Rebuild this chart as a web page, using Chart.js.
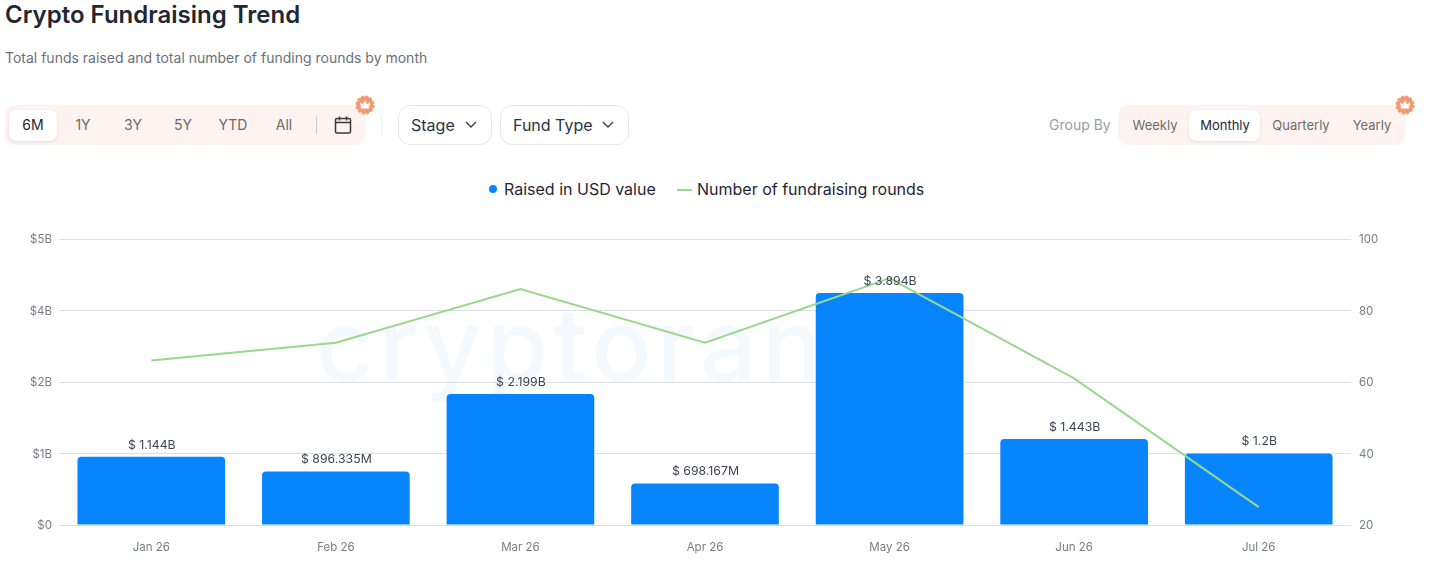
<!DOCTYPE html>
<html>
<head>
<meta charset="utf-8">
<title>Crypto Fundraising Trend</title>
<script src="https://cdn.jsdelivr.net/npm/chart.js@4"></script>
<style>
    html, body { margin: 0; padding: 0; background: #fff; overflow: hidden; }
    body { width: 1441px; height: 565px; position: relative; font-family: Inter, "Noto Sans", sans-serif; color: #1f2733; }
    .abs { position: absolute; white-space: nowrap; }
    .ctr { position: absolute; transform: translateX(-50%); white-space: nowrap; }
    #title { left: 5px; top: 0; font-size: 24px; line-height: 30px; font-weight: 600; }
    #subtitle { left: 5px; top: 49px; font-size: 14px; line-height: 18px; color: #6b7078; }
    .group { position: absolute; top: 105px; height: 40px; background: #fef3f0; border-radius: 10px; }
    .pill { position: absolute; top: 110px; height: 31px; background: #fff; border-radius: 7px; box-shadow: 0 1px 3px rgba(0,0,0,.1); }
    .tab { top: 116px; font-size: 14px; line-height: 18px; color: #6f6a68; }
    .tab.on { color: #1f2733; }
    .gtab { top: 116px; font-size: 13px; line-height: 18px; color: #6f6a68; }
    .gtab.on { color: #1f2733; }
    .drop { position: absolute; top: 105px; height: 38px; border: 1px solid #e6e8eb; border-radius: 12px; background: #fff; }
    .drop span { position: absolute; top: 9px; font-size: 16px; line-height: 20px; color: #2c3440; }
    .drop svg { position: absolute; top: 13px; }
    #wm { left: 316px; top: 285px; font-size: 100px; font-weight: 500; line-height: 120px; color: #f4f9fe; letter-spacing: 5px; }
    #chartBox { position: absolute; left: 0; top: 170px; width: 1441px; height: 395px; }
    .leg { position: absolute; top: 180px; font-size: 16px; line-height: 18px; font-weight: 400; color: #1f2733; white-space: nowrap; }
</style>
</head>
<body>
<div id="title" class="abs">Crypto Fundraising Trend</div>
<div id="subtitle" class="abs">Total funds raised and total number of funding rounds by month</div>

<div class="group" style="left:5px;width:360px"></div>
<div class="pill" style="left:9px;width:48px"></div>
<div class="ctr tab on" style="left:33px">6M</div>
<div class="ctr tab" style="left:83px">1Y</div>
<div class="ctr tab" style="left:133px">3Y</div>
<div class="ctr tab" style="left:183px">5Y</div>
<div class="ctr tab" style="left:233px">YTD</div>
<div class="ctr tab" style="left:284px">All</div>
<div class="abs" style="left:316px;top:116px;width:1px;height:18px;background:#cfc9c6"></div>
<svg class="abs" style="left:334px;top:116px" width="18" height="18" viewBox="0 0 18 18" fill="none" stroke="#3a3a3a" stroke-width="1.5">
    <rect x="1.500" y="2.500" width="15" height="14.500" rx="1.500"/><path d="M1.500 6.500h15M5.500 0.500v4M12.500 0.500v4"/>
</svg>
<svg class="abs crown" style="left:355px;top:95px" width="20" height="20" viewBox="0 0 20 20">
    <circle cx="10" cy="10" r="8.500" fill="#f19a72" stroke="#f19a72" stroke-width="2" stroke-dasharray="3 1.450"/><path d="M5 7l2.700 2.200L10 5.500l2.300 3.700L15 7l-1 6.500H6z" fill="#fff"/>
</svg>

<div class="abs" style="left:381px;top:115px;width:1px;height:20px;background:#eceef0"></div>
<div class="drop" style="left:398px;width:92px">
    <span style="left:12px">Stage</span>
    <svg style="left:65px" width="14" height="12" viewBox="0 0 14 12" fill="none" stroke="#3a3f47" stroke-width="1.4"><path d="M2 3l5 5 5-5"/></svg>
</div>
<div class="drop" style="left:500px;width:127px">
    <span style="left:12px">Fund Type</span>
    <svg style="left:100px" width="14" height="12" viewBox="0 0 14 12" fill="none" stroke="#3a3f47" stroke-width="1.4"><path d="M2 3l5 5 5-5"/></svg>
</div>

<div class="abs" style="left:1049px;top:116px;font-size:14px;line-height:18px;color:#9a9da1">Group By</div>
<div class="group" style="left:1118px;width:287px"></div>
<div class="pill" style="left:1189px;width:71px"></div>
<div class="ctr gtab" style="left:1155px">Weekly</div>
<div class="ctr gtab on" style="left:1225px">Monthly</div>
<div class="ctr gtab" style="left:1301px">Quarterly</div>
<div class="ctr gtab" style="left:1372px">Yearly</div>
<svg class="abs crown" style="left:1395px;top:95px" width="20" height="20" viewBox="0 0 20 20">
    <circle cx="10" cy="10" r="8.500" fill="#f19a72" stroke="#f19a72" stroke-width="2" stroke-dasharray="3 1.450"/><path d="M5 7l2.700 2.200L10 5.500l2.300 3.700L15 7l-1 6.500H6z" fill="#fff"/>
</svg>

<div id="wm" class="abs">cryptorank</div>
<div class="abs" id="legDot" style="left:489px;top:185px;width:8px;height:8px;border-radius:50%"></div>
<div class="leg" id="legBar" style="left:504px"></div>
<div class="abs" id="legLine" style="left:677px;top:189px;width:15px;height:2px"></div>
<div class="leg" id="legRounds" style="left:697px"></div>
<div id="chartBox"><canvas id="trendChart" width="1441" height="395"></canvas></div>

<script>
var months = ['Jan 26', 'Feb 26', 'Mar 26', 'Apr 26', 'May 26', 'Jun 26', 'Jul 26'];
// raised in USD, billions
var raised = [1.144, 0.896335, 2.199, 0.698167, 3.894, 1.443, 1.2];
var raisedLabels = ['$ 1.144B', '$ 896.335M', '$ 2.199B', '$ 698.167M', '$ 3.894B', '$ 1.443B', '$ 1.2B'];
var rounds = [66, 71, 86, 71, 89, 61, 25];

// text above each bar
var barLabels = {
    id: 'barLabels',
    afterDatasetsDraw: function (chart) {
        var ctx = chart.ctx;
        var bars = chart.getDatasetMeta(1).data;
        ctx.save();
        ctx.font = '12.3px Inter';
        ctx.fillStyle = '#3d4654';
        ctx.textAlign = 'center';
        ctx.textBaseline = 'middle';
        bars.forEach(function (bar, i) {
            ctx.fillText(raisedLabels[i], bar.x + 0.5, bar.y - 12);
        });
        ctx.restore();
    }
};

var ctx = document.getElementById('trendChart').getContext('2d');
var myChart = new Chart(ctx, {
    type: 'bar',
    data: {
        labels: months,
        datasets: [{
            type: 'line',
            label: 'Number of fundraising rounds',
            data: rounds,
            yAxisID: 'y1',
            borderColor: '#9bd78f',
            backgroundColor: '#9bd78f',
            borderWidth: 2,
            pointRadius: 0,
            tension: 0,
            fill: false,
            order: 0
        }, {
            label: 'Raised in USD value',
            data: raised,
            yAxisID: 'y',
            backgroundColor: '#0685ff',
            borderRadius: { topLeft: 4, topRight: 4 },
            borderSkipped: 'bottom',
            barPercentage: 0.8,
            categoryPercentage: 1,
            order: 1
        }]
    },
    options: {
        responsive: false,
        animation: false,
        layout: { padding: { top: 69 } },
        plugins: {
            tooltip: { enabled: false },
            legend: { display: false }
        },
        scales: {
            x: {
                grid: { display: false, drawTicks: false },
                border: { display: false },
                ticks: { color: '#777d86', font: { family: 'Inter', size: 11.5 }, padding: 16, maxRotation: 0 },
                afterFit: function (scale) { scale.height = 40; }
            },
            y: {
                position: 'left',
                min: 0,
                max: 4.8,
                grid: { color: '#dcdfe3', drawTicks: false },
                border: { display: false },
                ticks: {
                    stepSize: 1.2,
                    color: '#777d86',
                    padding: 7,
                    labelOffset: 1,
                    font: { family: 'Inter', size: 11.5 },
                    callback: function (value) {
                        return value === 0 ? '$0' : '$' + Math.round(value) + 'B';
                    }
                },
                afterFit: function (scale) { scale.width = 59; }
            },
            y1: {
                position: 'right',
                min: 20,
                max: 100,
                grid: { display: false, drawTicks: false },
                border: { display: false },
                ticks: { stepSize: 20, color: '#777d86', padding: 8, labelOffset: 1, font: { family: 'Inter', size: 11.5 } },
                afterFit: function (scale) { scale.width = 90; }
            }
        }
    },
    plugins: [barLabels]
});

// legend sits in the page, filled from the chart's datasets
var sets = myChart.data.datasets;
document.getElementById('legBar').textContent = sets[1].label;
document.getElementById('legRounds').textContent = sets[0].label;
document.getElementById('legDot').style.background = sets[1].backgroundColor;
document.getElementById('legLine').style.background = sets[0].borderColor;
</script>
</body>
</html>
